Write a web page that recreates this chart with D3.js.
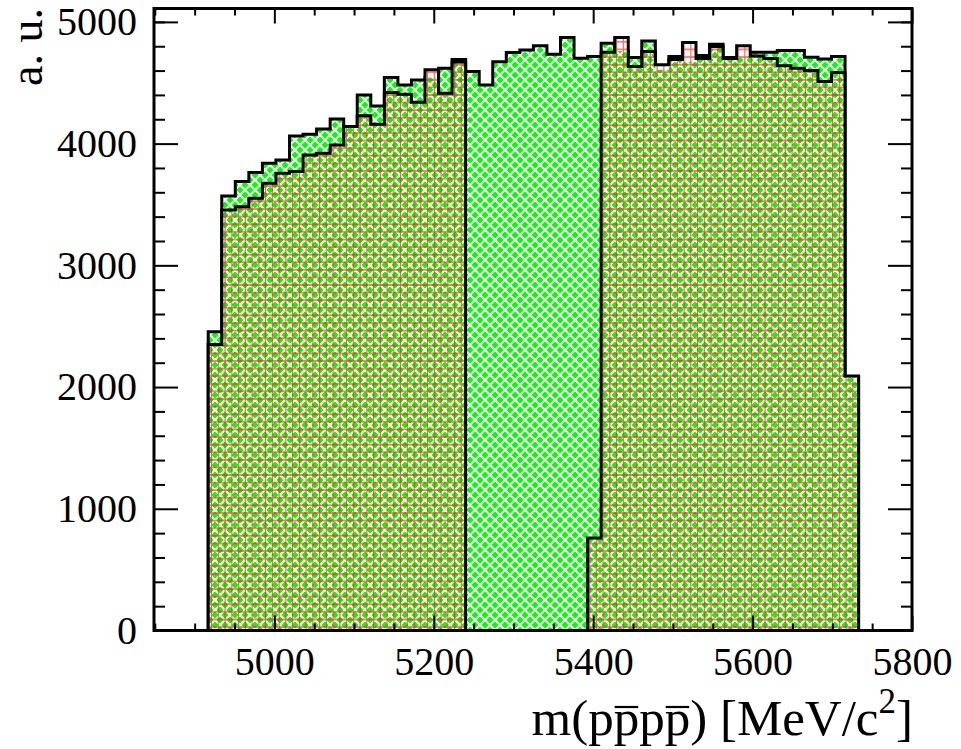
<!DOCTYPE html>
<html>
<head>
<meta charset="utf-8">
<script src="https://cdn.jsdelivr.net/npm/d3@7"></script>
<style>
  html, body { margin: 0; padding: 0; background: #fff; }
  svg { display: block; font-family: "Liberation Serif", "Times New Roman", serif; }
</style>
</head>
<body>
<svg id="chart" width="961" height="749"></svg>
<script>
// Binning of both histograms (MeV/c^2).
const binStart = 4917, binWidth = 17;

// Green histogram (full range), one value per bin.
const greenCounts = [
  2455, 3570, 3688, 3762, 3839, 3866, 4063, 4077, 4121, 4203,
  4140, 4400, 4310, 4543, 4482, 4523, 4543, 4620, 4690, 4592,
  4482, 4673, 4748, 4770, 4805, 4735, 4871, 4702, 4715, 4825,
  4760, 4707, 4844, 4606, 4715, 4673, 4723, 4816, 4707, 4707,
  4751, 4750, 4765, 4765, 4710, 4695, 4715, 2080
];
// Red histogram (signal window removed), one value per bin.
const redCounts = [
  2350, 3455, 3482, 3551, 3674, 3757, 3770, 3907, 3921, 3989,
  4140, 4228, 4159, 4419, 4406, 4340, 4606, 4414, 4670, 0,
  0, 0, 0, 0, 0, 0, 0, 0, 760, 4750,
  4871, 4633, 4756, 4647, 4690, 4830, 4700, 4797, 4700, 4805,
  4720, 4700, 4640, 4620, 4600, 4510, 4585, 2090
];

const xMajor = [5000, 5200, 5400, 5600, 5800];
const xMinor = [4850, 4900, 4950, 5050, 5100, 5150, 5250, 5300, 5350, 5450, 5500, 5550, 5650, 5700, 5750];
const yMajor = [0, 1000, 2000, 3000, 4000, 5000];
const yMinor = [200, 400, 600, 800, 1200, 1400, 1600, 1800, 2200, 2400, 2600, 2800,
                3200, 3400, 3600, 3800, 4200, 4400, 4600, 4800, 5000];

const F = { left: 154, right: 912, top: 8.5, bottom: 630.5 };

const svg = d3.select('#chart');
const x = d3.scaleLinear().domain([4849, 5800]).range([F.left, F.right]);
const y = d3.scaleLinear().domain([0, 5110]).range([F.bottom, F.top]);

// Step outline of a histogram, closed to the baseline at both ends.
function stepPath(counts) {
  const pts = [[x(binStart), y(0)]];
  counts.forEach((v, i) => pts.push([x(binStart + i * binWidth), y(v)]));
  pts.push([x(binStart + counts.length * binWidth), y(0)]);
  return d3.line().curve(d3.curveStepAfter)(pts);
}

const defs = svg.append('defs');

// Green woven fill.
const gp = defs.append('pattern').attr('id', 'greenPat')
  .attr('patternUnits', 'userSpaceOnUse').attr('width', 10).attr('height', 10);
gp.append('rect').attr('width', 10).attr('height', 10).attr('fill', '#00ff00');
gp.append('path').attr('d', 'M1,6L4,9M6,1L9,4M6,9L9,6M1,4L4,1')
  .attr('stroke', '#fff').attr('stroke-width', 2).attr('stroke-linecap', 'square').attr('fill', 'none');

// Red grid fill (transparent background).
const rp = defs.append('pattern').attr('id', 'redPat')
  .attr('patternUnits', 'userSpaceOnUse').attr('x', x(binStart)).attr('y', 0)
  .attr('width', 6.75).attr('height', 7.6);
rp.append('path').attr('d', 'M3.4,0V7.6M0,3.8H6.75')
  .attr('stroke', '#ff2020').attr('stroke-opacity', 0.75).attr('stroke-width', 1.2).attr('fill', 'none');

const redD = stepPath(redCounts);
const greenD = stepPath(greenCounts);

// Hide the green outline wherever it falls inside the red histogram.
const mask = defs.append('mask').attr('id', 'outsideRed').attr('maskUnits', 'userSpaceOnUse')
  .attr('x', 0).attr('y', 0).attr('width', 961).attr('height', 749);
mask.append('rect').attr('width', 961).attr('height', 749).attr('fill', '#fff');
mask.append('path').attr('d', redD).attr('fill', '#000');

const plot = svg.append('g');
plot.append('path').attr('d', greenD).attr('fill', 'url(#greenPat)');
plot.append('path').attr('d', redD).attr('fill', 'url(#redPat)');
plot.append('path').attr('d', greenD).attr('fill', 'none')
  .attr('stroke', '#000').attr('stroke-width', 3).attr('mask', 'url(#outsideRed)');
plot.append('path').attr('d', redD).attr('fill', 'none')
  .attr('stroke', '#000').attr('stroke-width', 3);

// Axes: ticks point inwards on all four sides.
function addAxis(axis, tx, ty) {
  const g = svg.append('g').attr('transform', `translate(${tx},${ty})`).call(axis);
  g.select('.domain').remove();
  g.selectAll('line').attr('stroke', '#000').attr('stroke-width', 2);
  g.selectAll('text').attr('font-size', 40).attr('fill', '#000')
    .attr('font-family', '"Liberation Serif", "Times New Roman", serif');
  return g;
}
addAxis(d3.axisBottom(x).tickValues(xMajor).tickSize(-15).tickPadding(16).tickFormat(d3.format('d')), 0, F.bottom);
addAxis(d3.axisBottom(x).tickValues(xMinor).tickSize(-7).tickFormat(''), 0, F.bottom);
addAxis(d3.axisTop(x).tickValues(xMajor).tickSize(-15).tickFormat(''), 0, F.top);
addAxis(d3.axisTop(x).tickValues(xMinor).tickSize(-7).tickFormat(''), 0, F.top);
addAxis(d3.axisLeft(y).tickValues(yMajor).tickSize(-24).tickPadding(17).tickFormat(d3.format('d')), F.left, 0);
addAxis(d3.axisLeft(y).tickValues(yMinor).tickSize(-11).tickFormat(''), F.left, 0);
addAxis(d3.axisRight(y).tickValues(yMajor).tickSize(-24).tickFormat(''), F.right, 0);
addAxis(d3.axisRight(y).tickValues(yMinor).tickSize(-11).tickFormat(''), F.right, 0);

svg.append('rect')
  .attr('x', F.left).attr('y', F.top)
  .attr('width', F.right - F.left).attr('height', F.bottom - F.top)
  .attr('fill', 'none').attr('stroke', '#000').attr('stroke-width', 3);

// Axis titles.
const xt = svg.append('text').attr('x', 913).attr('y', 735)
  .attr('text-anchor', 'end').attr('font-size', 51).attr('fill', '#000');
xt.append('tspan').text('m(pppp) [MeV/c');
xt.append('tspan').attr('font-size', 35).attr('dy', -22).text('2');
xt.append('tspan').attr('dy', 22).text(']');
// Overlines on the antiprotons (characters 3 and 5).
const xtNode = xt.node();
[3, 5].forEach((i) => {
  const a = xtNode.getStartPositionOfChar(i).x, b = xtNode.getEndPositionOfChar(i).x;
  svg.append('line').attr('x1', a + 1).attr('x2', b - 1).attr('y1', 707).attr('y2', 707)
    .attr('stroke', '#000').attr('stroke-width', 2.2);
});

svg.append('text').attr('transform', 'translate(42,8) rotate(-90)')
  .attr('text-anchor', 'end').attr('font-size', 46).attr('fill', '#000').text('a. u.');
</script>
</body>
</html>
